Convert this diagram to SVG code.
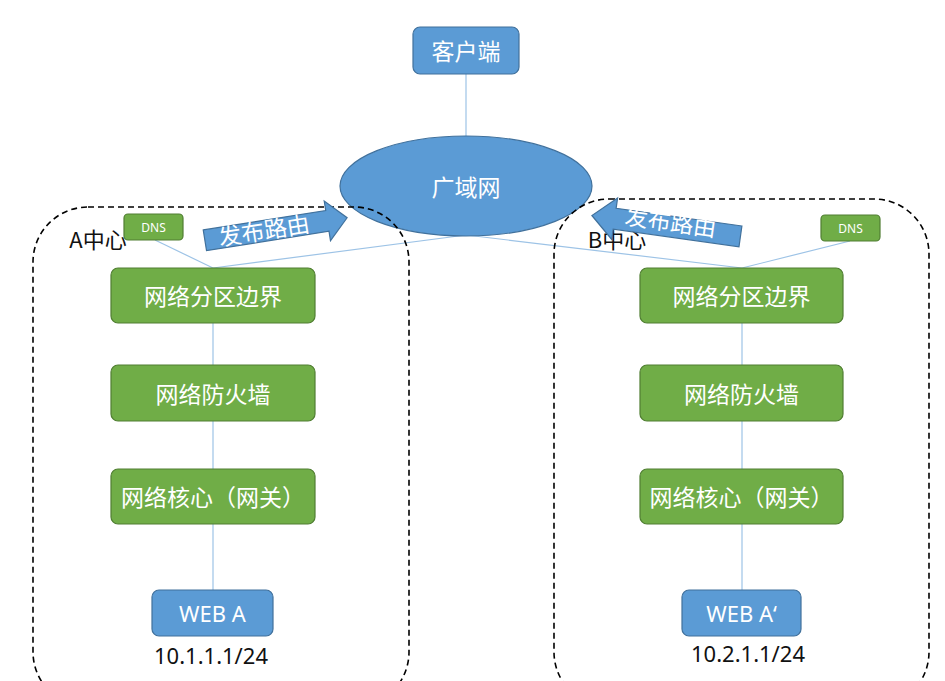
<svg xmlns="http://www.w3.org/2000/svg" width="945" height="681" viewBox="0 0 945 681">
<style>
.t{font-family:"Noto Sans CJK SC","Noto Sans",sans-serif;text-anchor:middle;dominant-baseline:central}
.l{font-family:"Noto Sans","Noto Sans CJK SC",sans-serif}
.w{fill:#fff}
.k{fill:#111}
.blue{fill:#5B9BD5;stroke:#41719C;stroke-width:1.2}
.green{fill:#70AD47;stroke:#507E32;stroke-width:1.2}
.ln{stroke:#9DC3E6;stroke-width:1.2;fill:none}
.dash{fill:none;stroke:#000;stroke-width:1.6;stroke-dasharray:6 4}
</style>
<rect width="945" height="681" fill="#fff"/>
<g id="connectors">
<line class="ln" x1="466" y1="74" x2="466" y2="136"/>
<line class="ln" x1="466" y1="235" x2="213" y2="268"/>
<line class="ln" x1="466" y1="235" x2="742" y2="268"/>
<line class="ln" x1="155" y1="240" x2="213" y2="268"/>
<line class="ln" x1="850" y1="241" x2="742" y2="268"/>
<line class="ln" x1="213" y1="323" x2="213" y2="365"/>
<line class="ln" x1="213" y1="421" x2="213" y2="469"/>
<line class="ln" x1="213" y1="524" x2="213" y2="590"/>
<line class="ln" x1="742" y1="323" x2="742" y2="365"/>
<line class="ln" x1="742" y1="421" x2="742" y2="469"/>
<line class="ln" x1="742" y1="524" x2="742" y2="590"/>
</g>
<g id="client">
<rect class="blue" x="413" y="27" width="106" height="47" rx="7"/>
<text class="t w" x="466" y="50" font-size="23">客户端</text>
</g>
<g id="wan">
<ellipse class="blue" cx="466" cy="186" rx="126" ry="50"/>
<text class="t w" x="466" y="186" font-size="23">广域网</text>
</g>
<g id="regions">
<rect class="dash" x="33" y="207" width="376" height="500" rx="55"/>
<rect class="dash" x="554" y="199" width="375" height="508" rx="55"/>
<text class="t k" x="98" y="238" font-size="22">A中心</text>
<text class="t k" x="617" y="238" font-size="22">B中心</text>
</g>
<g id="arrowA" transform="translate(276 229) rotate(-9)">
<polygon class="blue" points="-72,-10.5 52,-10.5 52,-20 72,0 52,20 52,10.5 -72,10.5"/>
<text class="t w" x="-12" y="-2" font-size="23">发布路由</text>
</g>
<g id="arrowB" transform="translate(667 220) rotate(8)">
<polygon class="blue" points="75,-10.5 -52,-10.5 -52,-21 -75,0 -52,21 -52,10.5 75,10.5" transform="translate(0 6)"/>
<text class="t w" x="4" y="0" font-size="23">发布路由</text>
</g>
<g id="dnsA">
<rect class="green" x="124" y="214" width="59" height="26" rx="4"/>
<text class="t l w" x="153.5" y="227" font-size="12">DNS</text>
</g>
<g id="dnsB">
<rect class="green" x="821" y="215" width="59" height="26" rx="4"/>
<text class="t l w" x="850.5" y="228" font-size="12">DNS</text>
</g>
<g id="borderA">
<rect class="green" x="111" y="268" width="204" height="55" rx="7"/>
<text class="t w" x="213" y="295" font-size="23">网络分区边界</text>
</g>
<g id="firewallA">
<rect class="green" x="111" y="365" width="204" height="56" rx="7"/>
<text class="t w" x="213" y="393" font-size="23">网络防火墙</text>
</g>
<g id="coreA">
<rect class="green" x="111" y="469" width="204" height="55" rx="7"/>
<text class="t w" x="213" y="496" font-size="23">网络核心（网关）</text>
</g>
<g id="webA">
<rect class="blue" x="152" y="590" width="121" height="46" rx="7"/>
<text class="t l w" x="212.5" y="613" font-size="22">WEB A</text>
<text class="t l k" x="211" y="655" font-size="22">10.1.1.1/24</text>
</g>
<g id="borderB">
<rect class="green" x="640" y="268" width="203" height="55" rx="7"/>
<text class="t w" x="741.5" y="295" font-size="23">网络分区边界</text>
</g>
<g id="firewallB">
<rect class="green" x="640" y="365" width="203" height="56" rx="7"/>
<text class="t w" x="741.5" y="393" font-size="23">网络防火墙</text>
</g>
<g id="coreB">
<rect class="green" x="640" y="469" width="203" height="55" rx="7"/>
<text class="t w" x="741.5" y="496" font-size="23">网络核心（网关）</text>
</g>
<g id="webB">
<rect class="blue" x="682" y="590" width="119" height="46" rx="7"/>
<text class="t l w" x="741.5" y="613" font-size="22">WEB A‘</text>
<text class="t l k" x="748" y="653" font-size="22">10.2.1.1/24</text>
</g>
</svg>
